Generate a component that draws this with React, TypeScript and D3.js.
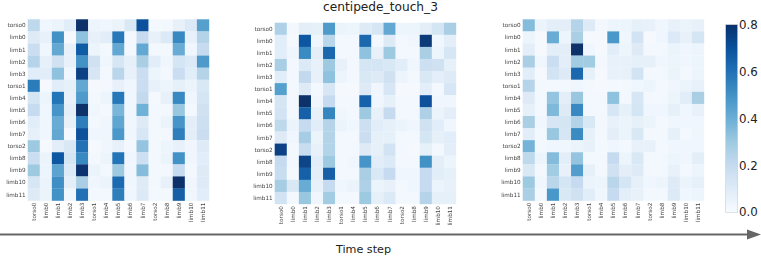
import * as React from "react";
import * as d3 from "d3";

const labels = ["torso0", "limb0", "limb1", "limb2", "limb3", "torso1", "limb4", "limb5", "limb6", "limb7", "torso2", "limb8", "limb9", "limb10", "limb11"];
const colorTicks = [0, 0.2, 0.4, 0.6, 0.8];

const leftValues = [
  [.22, .03, .05, .09, .8, .04, .03, .05, .12, .7, .02, .02, .06, .11, .45],
  [.1, .06, .5, .01, .33, .06, .09, .58, .02, .2, .06, .11, .53, .06, .25],
  [.18, .03, .42, .06, .67, .04, .02, .42, .02, .42, .02, .02, .41, .03, .2],
  [.24, .07, .16, .06, .5, .16, .03, .13, .07, .27, .09, .03, .14, .11, .47],
  [.09, .09, .33, .03, .75, .13, .02, .23, .06, .18, .04, .02, .18, .09, .24],
  [.57, .01, .09, .07, .42, .01, .02, .06, .03, .18, .06, .04, .07, .05, .12],
  [.14, .04, .59, .06, .47, .02, .04, .58, .03, .21, .01, .06, .53, .03, .14],
  [.2, .03, .49, .08, .8, .03, .02, .37, .03, .39, .02, .02, .31, .02, .16],
  [.09, .03, .41, .06, .56, .02, .03, .43, .03, .1, .02, .05, .49, .08, .17],
  [.07, .03, .42, .02, .7, .03, .03, .48, .03, .13, .02, .02, .56, .08, .18],
  [.3, .01, .08, .12, .6, .01, .03, .06, .02, .32, .02, .04, .06, .03, .1],
  [.18, .05, .68, .14, .53, .02, .04, .59, .03, .17, .02, .05, .5, .03, .09],
  [.3, .04, .44, .11, .79, .05, .02, .3, .03, .35, .02, .02, .2, .02, .1],
  [.13, .05, .51, .08, .27, .03, .05, .62, .03, .1, .02, .06, .8, .03, .1],
  [.1, .05, .5, .03, .6, .02, .02, .56, .03, .11, .02, .02, .66, .03, .09],
];

const middleValues = [
  [.26, .02, .08, .07, .47, .05, .04, .1, .13, .42, .04, .04, .08, .14, .27],
  [.09, .01, .68, .03, .23, .02, .02, .63, .02, .1, .02, .03, .77, .03, .08],
  [.09, .03, .52, .08, .63, .02, .02, .33, .06, .3, .02, .02, .27, .04, .13],
  [.27, .02, .11, .06, .3, .06, .02, .14, .14, .12, .09, .03, .17, .16, .07],
  [.09, .02, .21, .06, .33, .04, .02, .12, .1, .16, .04, .02, .12, .08, .1],
  [.45, .02, .1, .02, .13, .01, .01, .1, .03, .13, .01, .01, .08, .02, .13],
  [.14, .02, .8, .03, .2, .02, .02, .64, .03, .07, .02, .02, .7, .03, .03],
  [.15, .02, .65, .06, .54, .03, .02, .3, .06, .2, .02, .02, .26, .05, .08],
  [.22, .05, .2, .09, .24, .05, .03, .17, .09, .07, .05, .03, .16, .09, .03],
  [.1, .03, .28, .05, .25, .02, .02, .18, .07, .07, .02, .02, .14, .07, .09],
  [.75, .02, .19, .06, .25, .02, .02, .1, .07, .15, .02, .01, .07, .02, .08],
  [.2, .02, .74, .09, .3, .02, .03, .49, .09, .11, .02, .02, .5, .08, .04],
  [.19, .01, .65, .08, .66, .02, .02, .27, .12, .2, .03, .03, .2, .09, .07],
  [.28, .12, .41, .06, .2, .03, .05, .26, .05, .06, .02, .03, .2, .05, .06],
  [.15, .02, .31, .03, .29, .02, .02, .3, .07, .11, .02, .02, .24, .07, .07],
];

const rightValues = [
  [.35, .05, .08, .08, .24, .1, .02, .04, .04, .07, .06, .03, .06, .05, .06],
  [.04, .01, .41, .04, .27, .01, .01, .48, .03, .15, .01, .03, .11, .06, .14],
  [.08, .01, .08, .08, .8, .03, .01, .09, .04, .1, .02, .02, .05, .03, .04],
  [.27, .03, .18, .08, .29, .29, .02, .06, .06, .07, .07, .03, .04, .03, .04],
  [.09, .01, .15, .1, .63, .07, .01, .06, .06, .15, .02, .02, .05, .02, .04],
  [.24, .02, .02, .02, .03, .02, .01, .02, .02, .03, .04, .02, .03, .05, .06],
  [.1, .02, .32, .08, .31, .02, .02, .33, .02, .13, .02, .02, .04, .09, .27],
  [.07, .02, .36, .1, .53, .02, .02, .13, .07, .14, .03, .03, .07, .03, .06],
  [.27, .03, .13, .14, .25, .12, .02, .06, .05, .07, .05, .02, .03, .03, .03],
  [.09, .02, .31, .13, .52, .07, .02, .08, .05, .12, .02, .02, .07, .02, .03],
  [.38, .02, .03, .03, .05, .06, .02, .03, .02, .06, .06, .02, .03, .03, .03],
  [.22, .04, .35, .08, .32, .02, .02, .2, .04, .12, .02, .02, .04, .03, .08],
  [.12, .02, .29, .06, .46, .07, .02, .16, .08, .1, .02, .02, .06, .02, .04],
  [.3, .03, .23, .14, .2, .05, .04, .23, .14, .07, .03, .04, .1, .05, .07],
  [.27, .02, .48, .12, .16, .09, .03, .2, .08, .06, .02, .02, .11, .03, .04],
];

const width = 761;
const height = 256;
const font = "'DejaVu Sans', sans-serif";
const mapSize = 181.3;

// same stops as matplotlib Blues
const blues = d3.schemeBlues[9];
const color = d3.scaleLinear<string>()
  .domain(blues.map((_, i) => (i / 8) * 0.8))
  .range(blues)
  .clamp(true);

const band = d3.scaleBand<string>().domain(labels).range([0, mapSize]);
const barScale = d3.scaleLinear().domain([0, 0.8]).range([212.3, 24.7]);

function Heatmap({ x, y, values }: { x: number; y: number; values: number[][] }) {
  const step = band.bandwidth();
  return (
    <g transform={`translate(${x},${y})`}>
      <g filter="url(#soft)">
        {values.map((row, i) =>
          row.map((v, j) => (
            <rect key={`${i}-${j}`} x={band(labels[j])} y={band(labels[i])} width={step + 0.2} height={step + 0.2} fill={color(v)} />
          ))
        )}
      </g>
      <g filter="url(#softText)" fontSize={5.7} fill="#444">
        {labels.map(l => (
          <text key={`y${l}`} x={-2} y={band(l)! + step / 2} dy="0.35em" textAnchor="end">{l}</text>
        ))}
        {labels.map(l => (
          <text
            key={`x${l}`}
            transform={`translate(${band(l)! + step / 2},${mapSize + 2}) rotate(-90)`}
            dy="0.35em"
            textAnchor="end">{l}</text>
        ))}
      </g>
    </g>
  );
}

export default function App() {
  const barStops = d3.range(0, 1.01, 0.125);
  return (
    <svg width={width} height={height} fontFamily={font} style={{ position: "absolute", left: 0, top: 0 }}>
      <defs>
        <filter id="soft" x="-2%" y="-2%" width="104%" height="104%">
          <feGaussianBlur stdDeviation="0.45" />
        </filter>
        <filter id="softText" x="-20%" y="-20%" width="140%" height="140%">
          <feGaussianBlur stdDeviation="0.25" />
        </filter>
        <linearGradient id="bar" x1="0" y1="1" x2="0" y2="0">
          {barStops.map(t => (
            <stop key={t} offset={t} stopColor={color(t * 0.8)} />
          ))}
        </linearGradient>
      </defs>
      <text x={380.5} y={11} textAnchor="middle" fontSize={12.2} fill="#222">centipede_touch_3</text>
      <Heatmap x={27.7} y={19.3} values={leftValues} />
      <Heatmap x={274.7} y={22.7} values={middleValues} />
      <Heatmap x={522.7} y={19.3} values={rightValues} />
      <rect x={725.7} y={barScale(0.8)} width={12} height={barScale(0) - barScale(0.8)} fill="url(#bar)" stroke="#ccc" strokeWidth={0.6} />
      {colorTicks.map(t => (
        <text key={t} x={739} y={barScale(t)} dy="0.35em" fontSize={11.8} fill="#222">{t.toFixed(1)}</text>
      ))}
      <line x1={0} x2={749} y1={234.5} y2={234.5} stroke="#666" strokeWidth={2} />
      <path d="M747,229.5 L761,234.5 L747,239.5 Z" fill="#666" />
      <text x={363.5} y={252.5} textAnchor="middle" fontSize={11.2} fill="#222">Time step</text>
    </svg>
  );
}
